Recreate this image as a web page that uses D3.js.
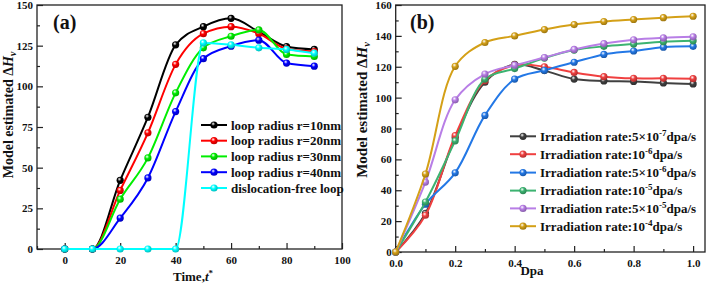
<!DOCTYPE html>
<html>
<head>
<meta charset="utf-8">
<script src="https://cdn.jsdelivr.net/npm/d3@7"></script>
<style>
body { margin: 0; background: #fff; }
svg text { font-family: "Liberation Serif", "Times New Roman", serif; font-weight: bold; fill: #111; }
</style>
</head>
<body>
<div class="chart"></div>
<script>
var w = 709;
var h = 284;

// panel (a) data
var timeVals = [0, 10, 20, 30, 40, 50, 60, 70, 80, 90];
var r10 = [0, 0, 42.2, 81, 125.5, 136.7, 141.8, 133.5, 124.5, 122.7];
var r20 = [0, 0, 36, 71.4, 113.5, 132.4, 136.7, 132.4, 123, 121.4];
var r30 = [0, 0, 30.6, 56, 96, 123.7, 130.8, 134.7, 119.6, 118.4];
var r40 = [0, 0, 19, 43.7, 84.5, 117, 124.7, 128.4, 114.3, 112.4];
var freeLoop = [0, 0, 0, 0, 0, 126.7, 125.5, 123.7, 122.7, 120.4];
var namesA = ["loop radius r=10nm", "loop radius r=20nm", "loop radius r=30nm", "loop radius r=40nm", "dislocation-free loop"];
var colorsA = ["#000000", "#ff0000", "#00ee00", "#0000ff", "#00ffff"];

// panel (b) data
var dpaVals = [0, 0.1, 0.2, 0.3, 0.4, 0.5, 0.6, 0.7, 0.8, 0.9, 1.0];
var rate5e7 = [0, 25, 74, 110, 121.5, 117.5, 112, 110.8, 110.5, 109.5, 108.9];
var rate1e6 = [0, 23.8, 75.4, 111, 121, 120, 116.3, 113.6, 112.5, 112.5, 112.3];
var rate5e6 = [0, 31, 51.3, 88.5, 112, 117.7, 122.9, 128, 130.2, 132.7, 133.2];
var rate1e5 = [0, 32.4, 72, 112, 118.8, 125.6, 130.8, 133.2, 134.7, 136.2, 136.8];
var rate5e5 = [0, 45.3, 98.6, 115.3, 121, 126, 131.2, 135, 137.5, 138.7, 139.4];
var rate1e4 = [0, 50.5, 120.3, 135.7, 140, 144.1, 147.3, 149.3, 150.6, 151.8, 152.7];
// [prefix, exponent]
var namesB = [["5\u00d710", "-7"], ["10", "-6"], ["5\u00d710", "-6"], ["10", "-5"], ["5\u00d710", "-5"], ["10", "-4"]];
var colorsB = ["#404040", "#f04040", "#2378e6", "#3cb371", "#b87ee6", "#d4a017"];

// tick labels
var ticksAx = [0, 20, 40, 60, 80, 100];
var ticksAy = [0, 25, 50, 75, 100, 125, 150];
var ticksBx = [0, 0.2, 0.4, 0.6, 0.8, 1.0];
var ticksBy = [0, 20, 40, 60, 80, 100, 120, 140, 160];

var svg = d3.select(".chart")
    .append("svg")
    .attr("width", w)
    .attr("height", h);

var defs = svg.append("defs");

//Sphere looking markers
function sphereGrad(col, id) {
    var g = defs.append("radialGradient")
        .attr("id", id)
        .attr("cx", "40%").attr("cy", "38%").attr("r", "60%")
        .attr("fx", "38%").attr("fy", "32%");
    g.append("stop").attr("offset", "0%").attr("stop-color", "#ffffff");
    g.append("stop").attr("offset", "45%").attr("stop-color", col);
    g.append("stop").attr("offset", "100%").attr("stop-color", d3.color(col).darker(0.8));
    return "url(#" + id + ")";
}

function drawPanel(opt) {
    var x = d3.scaleLinear().domain(opt.xDomain).range(opt.xRange);
    var y = d3.scaleLinear().domain(opt.yDomain).range(opt.yRange);
    var g = svg.append("g");

    //minor ticks
    g.append("g")
        .attr("transform", "translate(0," + opt.yRange[0] + ")")
        .call(d3.axisBottom(x).tickValues(opt.xMinor).tickSizeInner(-3).tickSizeOuter(0).tickFormat(""));
    g.append("g")
        .attr("transform", "translate(" + opt.xRange[0] + ",0)")
        .call(d3.axisLeft(y).tickValues(opt.yMinor).tickSizeInner(-3).tickSizeOuter(0).tickFormat(""));

    //major ticks
    g.append("g")
        .attr("transform", "translate(0," + opt.yRange[0] + ")")
        .call(d3.axisBottom(x).tickValues(opt.xTicks).tickSizeInner(-6).tickSizeOuter(0).tickPadding(7).tickFormat(opt.xFormat));
    g.append("g")
        .attr("transform", "translate(" + opt.xRange[0] + ",0)")
        .call(d3.axisLeft(y).tickValues(opt.yTicks).tickSizeInner(-6).tickSizeOuter(0).tickPadding(4));

    g.selectAll("g").attr("font-family", null).attr("font-size", null);
    g.selectAll(".tick line").attr("stroke", "#222").attr("stroke-width", 1.2);
    g.selectAll(".domain").remove();
    g.selectAll(".tick text")
        .style("font-family", "'Liberation Serif', 'Times New Roman', serif")
        .style("font-weight", "bold")
        .style("font-size", "11px")
        .attr("fill", "#111");

    //frame
    g.append("rect")
        .attr("x", opt.xRange[0])
        .attr("y", opt.yRange[1])
        .attr("width", opt.xRange[1] - opt.xRange[0])
        .attr("height", opt.yRange[0] - opt.yRange[1])
        .attr("fill", "none")
        .attr("stroke", "#222")
        .attr("stroke-width", 1.3);

    var line = d3.line()
        .x((d, i) => x(opt.xVals[i]))
        .y((d) => y(d))
        .curve(opt.curve);

    opt.series.forEach((s, k) => {
        var fill = sphereGrad(opt.colors[k], opt.id + k);
        g.append("path")
            .attr("d", line(s))
            .attr("fill", "none")
            .attr("stroke", opt.colors[k])
            .attr("stroke-width", 2);
        g.selectAll(".m" + k)
            .data(s)
            .enter()
            .append("circle")
            .attr("cx", (d, i) => x(opt.xVals[i]))
            .attr("cy", (d) => y(d))
            .attr("r", 3.6)
            .attr("fill", fill);
    });

    //legend
    opt.colors.forEach((c, k) => {
        var ly = opt.legY[k];
        g.append("line")
            .attr("x1", opt.legX).attr("x2", opt.legX + 26)
            .attr("y1", ly).attr("y2", ly)
            .attr("stroke", c).attr("stroke-width", 2);
        g.append("circle")
            .attr("cx", opt.legX + 13).attr("cy", ly).attr("r", 3.6)
            .attr("fill", "url(#" + opt.id + k + ")");
        var t = g.append("text")
            .attr("x", opt.legX + 30)
            .attr("y", ly + 4.5)
            .attr("font-size", 13);
        opt.legendText(t, k);
    });

    //panel letter
    g.append("text")
        .attr("x", opt.letterX)
        .attr("y", 29)
        .attr("font-size", 20)
        .text(opt.letter);

    return { x: x, y: y, g: g };
}

drawPanel({
    id: "ga",
    xDomain: [-10, 100], xRange: [37, 342],
    yDomain: [0, 150], yRange: [249, 5],
    xTicks: ticksAx, yTicks: ticksAy,
    xMinor: [-10, 10, 30, 50, 70, 90], yMinor: [12.5, 37.5, 62.5, 87.5, 112.5, 137.5],
    xFormat: d3.format("d"),
    xVals: timeVals,
    curve: d3.curveMonotoneX,
    series: [r10, r20, r30, r40, freeLoop],
    colors: colorsA,
    legX: 201,
    legY: [125, 140.7, 156.4, 172.2, 188],
    legendText: (t, k) => t.text(namesA[k]),
    letter: "(a)", letterX: 53
});

drawPanel({
    id: "gb",
    xDomain: [0, 1.04], xRange: [395.7, 705],
    yDomain: [0, 160], yRange: [252, 5],
    xTicks: ticksBx, yTicks: ticksBy,
    xMinor: [0.1, 0.3, 0.5, 0.7, 0.9], yMinor: [10, 30, 50, 70, 90, 110, 130, 150],
    xFormat: d3.format(".1f"),
    xVals: dpaVals,
    curve: d3.curveCatmullRom.alpha(0.5),
    series: [rate5e7, rate1e6, rate5e6, rate1e5, rate5e5, rate1e4],
    colors: colorsB,
    legX: 510,
    legY: [136.3, 154.2, 172.6, 190.6, 208.4, 226.2],
    legendText: (t, k) => {
        t.append("tspan").text("Irradiation rate:" + namesB[k][0]);
        t.append("tspan").attr("font-size", 9).attr("dy", -5).text(namesB[k][1]);
        t.append("tspan").attr("dy", 5).text("dpa/s");
    },
    letter: "(b)", letterX: 410
});

//Axis titles
function yTitle(cx, cy, size) {
    var t = svg.append("text")
        .attr("transform", "translate(" + cx + "," + cy + ") rotate(-90)")
        .attr("text-anchor", "middle")
        .attr("dy", "0.35em")
        .attr("font-size", size);
    t.append("tspan").text("Model estimated \u0394");
    t.append("tspan").attr("font-style", "italic").text("H");
    t.append("tspan").attr("font-style", "italic").attr("font-size", size * 0.7).attr("dy", 3).text("v");
}
yTitle(8, 115, 14);
yTitle(362, 110, 15);

var tt = svg.append("text")
    .attr("x", 193).attr("y", 281)
    .attr("text-anchor", "middle")
    .attr("font-size", 13);
tt.append("tspan").text("Time,");
tt.append("tspan").attr("font-style", "italic").text("t");
tt.append("tspan").attr("font-size", 9).attr("dy", -5).text("*");

svg.append("text")
    .attr("x", 532).attr("y", 275)
    .attr("text-anchor", "middle")
    .attr("font-size", 13)
    .text("Dpa");
</script>
</body>
</html>
